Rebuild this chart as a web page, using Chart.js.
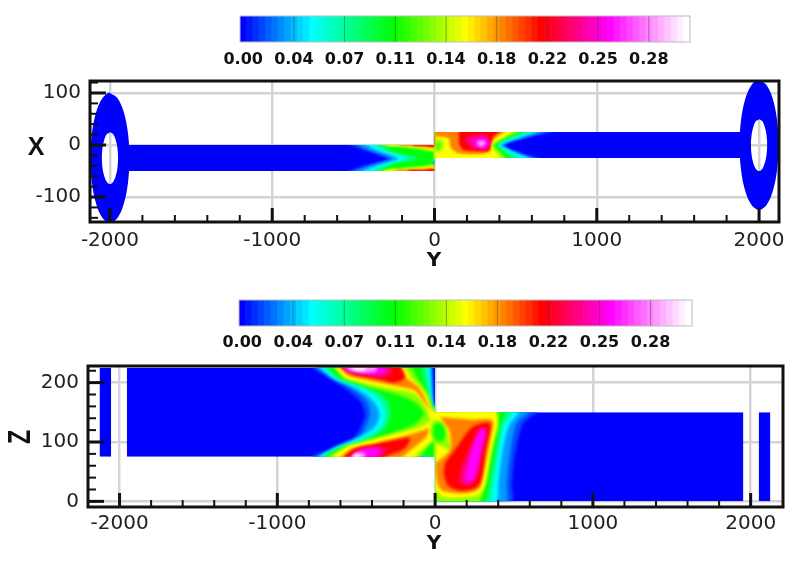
<!DOCTYPE html>
<html>
<head>
<meta charset="utf-8">
<script src="https://cdn.jsdelivr.net/npm/chart.js@4"></script>
<style>
html, body { margin: 0; padding: 0; background: #fff; width: 800px; height: 562px; overflow: hidden; }
canvas { position: absolute; left: 0; filter: blur(0.45px); }
</style>
</head>
<body>
<canvas id="legendTop" width="800" height="70" style="top:0"></canvas>
<canvas id="panelTop" width="800" height="210" style="top:70px"></canvas>
<canvas id="legendBottom" width="800" height="70" style="top:284px"></canvas>
<canvas id="panelBottom" width="800" height="207" style="top:355px"></canvas>
<script>
// colour legend
const legendLevels = [
    0.000, 0.0045, 0.009, 0.0135, 0.018, 0.0225, 0.027, 0.0315,
    0.036, 0.0405, 0.045, 0.0495, 0.054, 0.0585, 0.063, 0.0675,
    0.072, 0.0765, 0.081, 0.0855, 0.090, 0.0945, 0.099, 0.1035,
    0.108, 0.1125, 0.117, 0.1215, 0.126, 0.1305, 0.135, 0.1395,
    0.144, 0.1485, 0.153, 0.1575, 0.162, 0.1665, 0.171, 0.1755,
    0.180, 0.1845, 0.189, 0.1935, 0.198, 0.2025, 0.207, 0.2115,
    0.216, 0.2205, 0.225, 0.2295, 0.234, 0.2385, 0.243, 0.2475,
    0.252, 0.2565, 0.261, 0.2655, 0.270, 0.2745, 0.279, 0.2835,
    0.288, 0.2925, 0.297, 0.3015, 0.306, 0.3105, 0.315];
const legendTickLabels = ['0.00', '0.04', '0.07', '0.11', '0.14', '0.18', '0.22', '0.25', '0.28'];
const mapLevels = [0, 0.0495, 0.1075, 0.158, 0.212, 0.26, 0.314];
const mapColours = [[0, 0, 255], [0, 255, 255], [0, 255, 0], [255, 255, 0], [255, 0, 0], [255, 0, 255], [255, 255, 255]];

// axis ticks
const topXTicks = [-2000, -1000, 0, 1000, 2000];
const topYTicks = [-100, 0, 100];
const topXMinor = [-1800, -1600, -1400, -1200, -800, -600, -400, -200, 200, 400, 600, 800, 1200, 1400, 1600, 1800];
const topYMinor = [-140, -120, -80, -60, -40, -20, 20, 40, 60, 80, 120];
const bottomXTicks = [-2000, -1000, 0, 1000, 2000];
const bottomYTicks = [0, 100, 200];
const bottomXMinor = [-1800, -1600, -1400, -1200, -800, -600, -400, -200, 200, 400, 600, 800, 1200, 1400, 1600, 1800];
const bottomYMinor = [20, 40, 60, 80, 120, 140, 160, 180, 220];

// domain of the top plot (Y, X)
const ductLeft = [[-1900, 0], [0, 0], [0, -50], [-1900, -50]];
const ductRight = [[0, 25], [1900, 25], [1900, -25], [0, -25]];
const ringLeft = [[-2000, 100], [-1954, 90.5], [-1915, 63.4], [-1889, 22.9], [-1880, -25], [-1889, -72.9], [-1915, -113.4], [-1954, -140.5], [-2000, -150], [-2046, -140.5], [-2085, -113.4], [-2111, -72.9], [-2120, -25], [-2111, 22.9], [-2085, 63.4], [-2046, 90.5], [-2000, 100],
    [-2000, 25], [-2019, 21], [-2035, 10], [-2046, -6], [-2050, -25], [-2046, -44], [-2035, -60], [-2019, -71], [-2000, -75], [-1981, -71], [-1965, -60], [-1954, -44], [-1950, -25], [-1954, -6], [-1965, 10], [-1981, 21], [-2000, 25]];
const ringRight = [[2000, 125], [2046, 115.5], [2085, 88.4], [2111, 47.9], [2120, 0], [2111, -47.9], [2085, -88.4], [2046, -115.5], [2000, -125], [1954, -115.5], [1915, -88.4], [1889, -47.9], [1880, 0], [1889, 47.9], [1915, 88.4], [1954, 115.5], [2000, 125],
    [2000, 50], [1981, 46], [1965, 35], [1954, 19], [1950, 0], [1954, -19], [1965, -35], [1981, -46], [2000, -50], [2019, -46], [2035, -35], [2046, -19], [2050, 0], [2046, 19], [2035, 35], [2019, 46], [2000, 50]];
const topClip = [[-2130, 0, -50, 0], [0, 2130, -25, 25], [-2130, -1870, -160, 130], [1870, 2130, -160, 130]];

// contour outlines of the top plot (Y, X)
const t015 = [[-600, 10], [-450, -8], [-300, -24], [-300, -28], [-450, -42], [-600, -60], [-6, -60], [-6, -30], [670, -30], [520, -14], [435, 0], [560, 13], [760, 30], [-6, 30], [-6, 10]];
const t03 = [[-540, 10], [-420, -8], [-270, -24], [-270, -28], [-420, -42], [-540, -60], [-6, -60], [-6, -30], [640, -30], [505, -14], [425, 0], [540, 13], [700, 30], [-6, 30], [-6, 10]];
const t05 = [[-480, 10], [-370, -8], [-230, -24], [-230, -28], [-370, -42], [-480, -60], [-6, -60], [-6, -30], [600, -30], [490, -14], [410, 0], [510, 13], [650, 30], [-6, 30], [-6, 10]];
const t075 = [[-420, 10], [-310, -10], [-170, -24], [-170, -28], [-310, -40], [-420, -60], [-6, -60], [-6, -30], [530, -30], [465, -14], [395, 0], [480, 13], [610, 30], [-6, 30], [-6, 10]];
const t105 = [[-370, 10], [-260, -12], [-110, -24], [-110, -28], [-260, -38], [-370, -60], [-6, -60], [-6, -30], [480, -30], [430, -14], [385, 0], [450, 13], [570, 30], [-6, 30], [-6, 10]];
const t135a = [[-345, 16], [-325, 0], [-200, -4], [-80, -9], [-6, -12], [-6, 16]];
const t135b = [[-345, -70], [-325, -50], [-200, -44], [-80, -41], [0, -38], [0, -70]];
const t135c = [[0, 30], [535, 30], [440, 14], [370, 0], [405, -14], [440, -30], [0, -30]];
const t158a = [[-315, 16], [-295, 0], [-180, -3], [-60, -7], [0, -9], [0, 16]];
const t158b = [[-325, -70], [-305, -50], [-180, -46], [-60, -43], [0, -42], [0, -70]];
const t158c = [[0, 30], [490, 30], [420, 14], [350, 0], [380, -14], [410, -30], [0, -30]];
const t185a = [[-235, 16], [-215, 0], [-120, -2], [-20, -5], [0, -5], [0, 16]];
const t185b = [[-265, -70], [-245, -50], [-130, -48], [-20, -46], [0, -45], [0, -70]];
const t185c = [[0, 30], [448, 30], [380, 15], [345, 0], [345, -10], [300, -17], [150, -16], [100, -5], [90, 12], [40, 16], [0, 16]];
const t212a = [[-150, 16], [-135, 0], [-60, -2], [0, -3], [0, 16]];
const t212b = [[-185, -70], [-165, -50], [-70, -48], [0, -47], [0, -70]];
const t212c = [[150, 30], [410, 30], [360, 15], [345, 0], [335, -11], [230, -11], [170, -8], [150, 5]];
const t235 = [[190, 16], [320, 20], [340, 5], [320, -8], [240, -6], [195, 3]];
const t26 = [[235, 10], [300, 15], [338, 6], [325, -5], [280, -7], [240, -2]];
const t29 = [[262, 7], [300, 9], [315, 3], [295, -3], [268, -2]];
const tLump145 = [[6, 12], [45, 12], [62, 2], [52, -11], [28, -15], [6, -12]];
const tLump125 = [[6, 7], [30, 7], [42, 0], [30, -10], [6, -12]];

// domain of the bottom plot (Y, Z)
const blockLeftEnd = [[-2127, 225], [-2053, 225], [-2053, 75], [-2127, 75]];
const blockLeft = [[-1954, 225], [0, 225], [0, 75], [-1954, 75]];
const blockRight = [[0, 150], [1954, 150], [1954, 0], [0, 0]];
const blockRightEnd = [[2051, 150], [2125, 150], [2125, 0], [2051, 0]];
const bottomClip = [[-2127, -2053, 75, 225], [-1954, 0, 75, 225], [0, 1954, 0, 150], [2051, 2125, 0, 150]];

// contour outlines of the bottom plot (Y, Z)
const b015 = [[-803, 230], [-686, 210], [-570, 190], [-475, 168], [-444, 146], [-475, 123], [-528, 104], [-665, 87], [-792, 72], [-6, 72], [-6, -3], [479, -3], [486, 31], [507, 81], [560, 132], [655, 154], [11, 154], [-6, 165], [-11, 204], [-15, 230]];
const b03 = [[-781, 230], [-665, 210], [-528, 190], [-433, 168], [-412, 146], [-444, 123], [-486, 104], [-634, 87], [-771, 72], [-6, 72], [-6, -3], [444, -3], [454, 31], [475, 81], [517, 132], [602, 154], [11, 154], [-11, 165], [-19, 204], [-27, 230]];
const b05 = [[-750, 230], [-644, 207], [-496, 190], [-391, 168], [-353, 146], [-391, 123], [-517, 104], [-644, 90], [-739, 72], [-6, 72], [-6, -3], [380, -3], [401, 31], [422, 76], [465, 126], [528, 154], [11, 154], [-15, 165], [-27, 204], [-32, 230]];
const b075 = [[-724, 230], [-623, 208], [-465, 191], [-348, 170], [-317, 146], [-353, 122], [-486, 102], [-623, 89], [-718, 72], [-6, 72], [-6, -3], [338, -3], [370, 31], [401, 81], [433, 126], [486, 154], [11, 154], [-19, 165], [-40, 204], [-53, 230]];
const b105 = [[-697, 230], [-602, 207], [-433, 193], [-306, 171], [-285, 146], [-327, 120], [-454, 101], [-602, 90], [-697, 72], [-6, 72], [-6, -3], [306, -3], [348, 36], [380, 81], [412, 126], [444, 154], [11, 154], [-27, 165], [-70, 204], [-84, 230]];
const b135 = [[-676, 238], [-201, 238], [-112, 207], [-42, 179], [-4, 151], [370, 158], [401, 137], [370, 98], [332, 48], [296, 8], [264, -6], [11, -6], [2, 76], [-6, 104], [-53, 90], [-148, 64], [-686, 64], [-665, 78], [-496, 95], [-306, 112], [-137, 129], [-70, 148], [-137, 168], [-264, 182], [-433, 194], [-591, 209]];
const b158a = [[-670, 238], [-243, 238], [-148, 207], [-70, 185], [-15, 154], [21, 143], [-21, 135], [-60, 160], [-135, 182], [-243, 188], [-412, 197], [-570, 207]];
const b158b = [[-686, 64], [-581, 90], [-433, 102], [-264, 113], [-95, 125], [11, 140], [32, 126], [11, 109], [-74, 90], [-169, 64]];
const b158c = [[-4, 158], [370, 158], [395, 132], [353, 81], [321, 31], [285, 13], [201, 7], [53, 7], [11, 17], [2, 17], [2, 72], [-4, 140]];
const bBlob135 = [[-15, 138], [53, 132], [84, 109], [95, 86], [53, 92], [0, 98], [-32, 118]];
const bBlob105 = [[-6, 129], [32, 132], [63, 118], [53, 104], [11, 101], [-15, 115]];
const b185a = [[-655, 238], [-285, 238], [-190, 210], [-99, 190], [-27, 154], [-8, 146], [-65, 166], [-125, 186], [-222, 193], [-391, 202], [-549, 211]];
const b185b = [[-644, 64], [-539, 86], [-391, 96], [-243, 106], [-84, 119], [-42, 123], [-53, 110], [-137, 90], [-264, 64]];
const b185c = [[32, 142], [222, 138], [363, 136], [353, 109], [310, 53], [279, 22], [201, 14], [53, 17], [17, 28], [6, 64], [32, 70], [95, 87], [91, 118], [53, 134]];
const b212a = [[-644, 238], [-264, 238], [-190, 210], [-253, 200], [-348, 205], [-517, 213]];
const b212b = [[-612, 64], [-517, 88], [-370, 97], [-243, 104], [-160, 107], [-190, 90], [-306, 76], [-370, 64]];
const b212c = [[125, 87], [222, 122], [275, 130], [350, 131], [322, 87], [280, 28], [180, 18], [85, 26], [55, 48], [65, 66]];
const b235a = [[-634, 238], [-306, 238], [-275, 218], [-327, 209], [-454, 214], [-560, 218]];
const b235b = [[-591, 64], [-486, 87], [-348, 92], [-306, 88], [-370, 64]];
const b235c = [[169, 59], [232, 98], [285, 124], [332, 123], [296, 81], [264, 39], [201, 26], [148, 34]];
const b26a = [[-623, 238], [-327, 238], [-323, 216], [-454, 214], [-560, 220]];
const b26b = [[-570, 64], [-475, 86], [-370, 90], [-348, 84], [-412, 64]];
const b26c = [[190, 45], [243, 95], [291, 122], [317, 118], [285, 76], [243, 36], [201, 31]];
const b29a = [[-612, 238], [-391, 238], [-370, 221], [-444, 217], [-539, 220]];
const b29b = [[-560, 64], [-496, 81], [-444, 81], [-454, 64]];
const b31a = [[-581, 238], [-444, 238], [-444, 221], [-507, 220]];
const b31b = [[-549, 64], [-507, 80], [-475, 78], [-465, 64]];

// paint order, low values first
const topRegions = [
    [0, ductLeft, 0], [0, ductRight, 0], [0, ringLeft, 0.34], [0, ringRight, 0.34],
    [0.015, t015], [0.03, t03], [0.05, t05], [0.075, t075], [0.105, t105],
    [0.135, t135a], [0.135, t135b], [0.135, t135c],
    [0.158, t158a], [0.158, t158b], [0.158, t158c],
    [0.185, t185a], [0.185, t185b], [0.185, t185c],
    [0.212, t212a], [0.212, t212b], [0.212, t212c],
    [0.235, t235], [0.26, t26], [0.29, t29],
    [0.145, tLump145], [0.125, tLump125]];
const bottomRegions = [
    [0, blockLeftEnd, 0], [0, blockLeft, 0], [0, blockRight, 0], [0, blockRightEnd, 0],
    [0.015, b015], [0.03, b03], [0.05, b05], [0.075, b075], [0.105, b105], [0.135, b135],
    [0.158, b158a], [0.158, b158b], [0.158, b158c],
    [0.135, bBlob135], [0.105, bBlob105],
    [0.185, b185a], [0.185, b185b], [0.185, b185c],
    [0.212, b212a], [0.212, b212b], [0.212, b212c],
    [0.235, b235a], [0.235, b235b], [0.235, b235c],
    [0.26, b26a], [0.26, b26b], [0.26, b26c],
    [0.29, b29a], [0.29, b29b], [0.31, b31a], [0.31, b31b]];

function levelColour(level) {
    let i = 0;
    while (i < mapLevels.length - 2 && level > mapLevels[i + 1]) i++;
    const t = Math.min(1, (level - mapLevels[i]) / (mapLevels[i + 1] - mapLevels[i]));
    const c = mapColours[i].map((v, k) => Math.round(v + (mapColours[i + 1][k] - v) * t));
    return 'rgb(' + c.join(',') + ')';
}

const tickFont = { family: "'DejaVu Sans'", size: 20 };
const tickColour = '#222';

// contours are clipped to the flow domain, they may run past the walls
// and are softened so the bands melt together, the solid blue stays sharp
const domainClip = {
    id: 'domainClip',
    beforeDatasetsDraw(chart, args, opts) {
        const ctx = chart.ctx, x = chart.scales.x, y = chart.scales.y;
        ctx.save();
        ctx.beginPath();
        opts.rects.forEach(r => {
            ctx.rect(x.getPixelForValue(r[0]), y.getPixelForValue(r[3]),
                x.getPixelForValue(r[1]) - x.getPixelForValue(r[0]),
                y.getPixelForValue(r[2]) - y.getPixelForValue(r[3]));
        });
        ctx.clip();
    },
    afterDatasetDraw(chart, args, opts) {
        // first region drawn last, index falls as the painting goes on
        if (args.index === chart.data.datasets.length - opts.solidCount) {
            chart.ctx.filter = 'blur(' + opts.soften + 'px)';
        }
    },
    afterDatasetsDraw(chart) {
        chart.ctx.restore();
    }
};

// frame, inward ticks and the axis letters
const frameTicks = {
    id: 'frameTicks',
    afterDraw(chart, args, opts) {
        const ctx = chart.ctx, x = chart.scales.x, y = chart.scales.y, a = chart.chartArea;
        ctx.save();
        ctx.strokeStyle = '#111';
        const mark = (list, len, width, horizontal) => {
            ctx.lineWidth = width;
            list.forEach(v => {
                ctx.beginPath();
                if (horizontal) {
                    const p = y.getPixelForValue(v);
                    ctx.moveTo(a.left, p);
                    ctx.lineTo(a.left + len, p);
                } else {
                    const p = x.getPixelForValue(v);
                    ctx.moveTo(p, a.bottom);
                    ctx.lineTo(p, a.bottom - len);
                }
                ctx.stroke();
            });
        };
        mark(opts.xMinor, 7, 2, false);
        mark(opts.yMinor, 8, 2, true);
        mark(opts.xMajor, 14, 3, false);
        mark(opts.yMajor, 16, 3, true);
        ctx.lineWidth = 3;
        ctx.strokeRect(a.left, a.top, a.right - a.left, a.bottom - a.top);
        ctx.fillStyle = '#111';
        ctx.textAlign = 'center';
        ctx.textBaseline = 'middle';
        opts.letters.forEach(l => {
            ctx.save();
            ctx.translate(l.x, l.y);
            if (l.rotate) ctx.rotate(l.rotate);
            if (l.sx) ctx.scale(l.sx, 1);
            ctx.font = l.font;
            ctx.fillText(l.text, 0, 0);
            ctx.restore();
        });
        ctx.restore();
    }
};

function drawPanel(id, cfg) {
    const datasets = cfg.regions.map(r => ({
        data: r[1].map(p => ({ x: p[0], y: p[1] })),
        showLine: true,
        fill: 'shape',
        tension: r[2] === undefined ? 0.3 : r[2],
        borderWidth: 0,
        pointRadius: 0,
        backgroundColor: levelColour(r[0])
    })).reverse();   // the first dataset ends up on top
    new Chart(id, {
        type: 'scatter',
        data: { datasets },
        plugins: [domainClip, frameTicks],
        options: {
            responsive: false,
            animation: false,
            devicePixelRatio: 1,
            layout: { autoPadding: false, padding: cfg.padding },
            plugins: {
                legend: { display: false },
                tooltip: { enabled: false },
                domainClip: { rects: cfg.clip, soften: cfg.soften, solidCount: cfg.regions.filter(r => r[2] !== undefined).length },
                frameTicks: { xMajor: cfg.xTicks, yMajor: cfg.yTicks, xMinor: cfg.xMinor, yMinor: cfg.yMinor, letters: cfg.letters }
            },
            scales: {
                x: {
                    type: 'linear', min: cfg.xRange[0], max: cfg.xRange[1],
                    afterBuildTicks: s => { s.ticks = cfg.xTicks.map(v => ({ value: v })); },
                    afterFit: s => { s.height = cfg.xHeight; s.paddingLeft = 0; s.paddingRight = 0; },
                    border: { display: false },
                    grid: { color: '#d4d4d4', lineWidth: 2.5, drawTicks: false },
                    ticks: { font: tickFont, color: tickColour, padding: cfg.xPad, maxRotation: 0, callback: v => String(v) }
                },
                y: {
                    type: 'linear', min: cfg.yRange[0], max: cfg.yRange[1],
                    afterBuildTicks: s => { s.ticks = cfg.yTicks.map(v => ({ value: v })); },
                    afterFit: s => { s.width = cfg.yWidth; s.paddingTop = 0; s.paddingBottom = 0; },
                    border: { display: false },
                    grid: { color: '#d4d4d4', lineWidth: 2.5, drawTicks: false },
                    ticks: { font: tickFont, color: tickColour, padding: 9, callback: v => String(v) }
                }
            }
        }
    });
}

// dark divider at every labelled level, grey box round the bar
const legendFrame = {
    id: 'legendFrame',
    afterDatasetsDraw(chart) {
        const ctx = chart.ctx, x = chart.scales.x, a = chart.chartArea;
        ctx.save();
        ctx.strokeStyle = 'rgba(60,60,60,0.45)';
        ctx.lineWidth = 1;
        legendTickLabels.forEach((l, i) => {
            if (i === 0) return;
            const p = x.getPixelForValue(i * 8);
            ctx.beginPath();
            ctx.moveTo(p, a.top);
            ctx.lineTo(p, a.bottom);
            ctx.stroke();
        });
        ctx.strokeStyle = '#bbb';
        ctx.strokeRect(a.left, a.top, a.right - a.left, a.bottom - a.top);
        ctx.restore();
    }
};

function drawLegend(id, left, right, top, bottom, labelPad) {
    new Chart(id, {
        type: 'bar',
        data: {
            labels: legendLevels,
            datasets: [{
                data: legendLevels.map(() => 1),
                backgroundColor: legendLevels.map(levelColour),
                barPercentage: 1,
                categoryPercentage: 1
            }]
        },
        plugins: [legendFrame],
        options: {
            responsive: false,
            animation: false,
            devicePixelRatio: 1,
            layout: { autoPadding: false, padding: { left: left, right: 800 - right, top: top, bottom: 0 } },
            plugins: { legend: { display: false }, tooltip: { enabled: false } },
            scales: {
                x: {
                    afterFit: s => { s.height = 70 - bottom; s.paddingLeft = 0; s.paddingRight = 0; },
                    border: { display: false },
                    grid: { display: false },
                    ticks: {
                        autoSkip: false, maxRotation: 0, padding: labelPad, color: '#111',
                        font: { family: "'DejaVu Sans'", size: 16, weight: 'bold' },
                        callback: (v, i) => legendTickLabels[i / 8] || ''
                    }
                },
                y: { display: false, min: 0, max: 1 }
            }
        }
    });
}

drawLegend('legendTop', 240, 690, 16, 42, 0);
drawPanel('panelTop', {
    regions: topRegions, clip: topClip, soften: 0.8,
    xRange: [-2123, 2123], yRange: [-148, 123],
    xTicks: topXTicks, yTicks: topYTicks, xMinor: topXMinor, yMinor: topYMinor, xPad: 7,
    padding: { left: 0, right: 21, top: 11, bottom: 0 }, xHeight: 58, yWidth: 90,
    letters: [
        { text: 'X', x: 36, y: 78, font: "bold 25px 'Liberation Sans'" },
        { text: 'Y', x: 434, y: 191, font: "bold 20px 'DejaVu Sans'" }
    ]
});
drawLegend('legendBottom', 239, 692, 16, 42, -1);
drawPanel('panelBottom', {
    regions: bottomRegions, clip: bottomClip, soften: 1.5,
    xRange: [-2200, 2205], yRange: [-9.5, 228],
    xTicks: bottomXTicks, yTicks: bottomYTicks, xMinor: bottomXMinor, yMinor: bottomYMinor, xPad: 5,
    padding: { left: 0, right: 17, top: 11, bottom: 0 }, xHeight: 55, yWidth: 88,
    letters: [
        { text: 'Z', x: 21, y: 82, font: "bold 32px 'Liberation Sans'", rotate: -Math.PI / 2, sx: 0.72 },
        { text: 'Y', x: 434, y: 189, font: "bold 20px 'DejaVu Sans'" }
    ]
});
</script>
</body>
</html>
